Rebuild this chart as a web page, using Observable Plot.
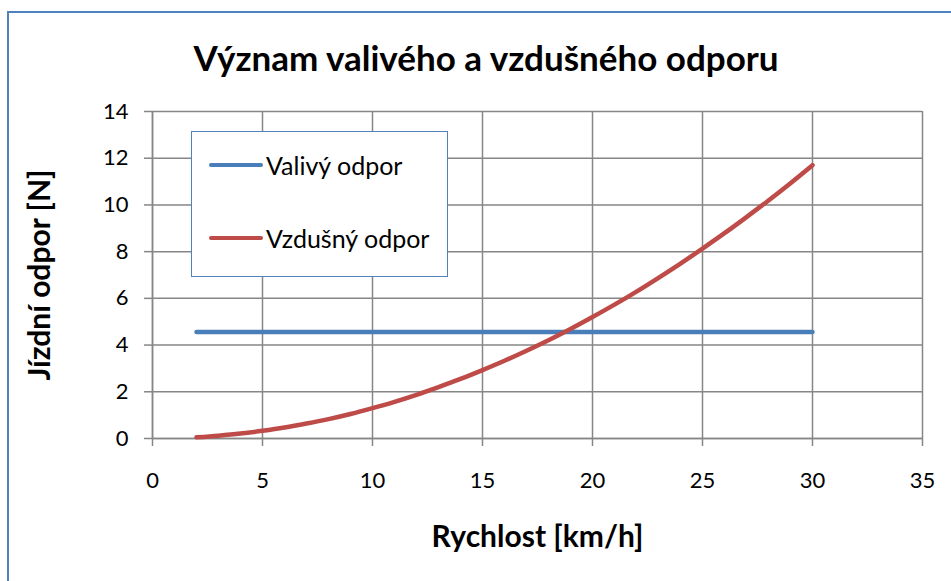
<!DOCTYPE html>
<html>
<head>
<meta charset="utf-8">
<script src="https://cdn.jsdelivr.net/npm/d3@7"></script>
<script src="https://cdn.jsdelivr.net/npm/@observablehq/plot@0.6"></script>
<style>
  html, body { margin: 0; padding: 0; background: #fff; overflow: hidden; }
  #wrap { position: relative; width: 951px; height: 581px; overflow: hidden; font-family: Lato, "Open Sans", sans-serif; }
  #border { position: absolute; left: 7px; top: 11px; width: 1200px; height: 1200px; border: 2px solid #4F81BD; box-sizing: border-box; }
  #title { position: absolute; left: 0; top: 35px; width: 972px; text-align: center; font-weight: bold; font-size: 35px; line-height: 44px; color: #000; }
  #chart { position: absolute; left: 0; top: 0; }
  #legend { position: absolute; left: 191px; top: 131px; width: 257px; height: 146px; border: 1.5px solid #4F81BD; box-sizing: border-box; background: #fff; }
  .li { position: absolute; left: 17px; display: flex; align-items: center; font-size: 25px; line-height: 30px; color: #000; }
  .sw { width: 54px; height: 4px; border-radius: 2px; margin-right: 3px; }
</style>
</head>
<body>
<div id="wrap">
  <div id="border"></div>
  <div id="chart"></div>
  <div id="title">Význam valivého a vzdušného odporu</div>
  <div id="legend">
    <div class="li" style="top:18px"><div class="sw" style="background:#4A7EBB"></div><span>Valivý odpor</span></div>
    <div class="li" style="top:91px"><div class="sw" style="background:#BE4B48"></div><span>Vzdušný odpor</span></div>
  </div>
</div>
<script>
const speeds = [2,3,4,5,6,7,8,9,10,11,12,13,14,15,16,17,18,19,20,21,22,23,24,25,26,27,28,29,30];
const valivy = [4.56,4.56,4.56,4.56,4.56,4.56,4.56,4.56,4.56,4.56,4.56,4.56,4.56,4.56,4.56,4.56,4.56,4.56,4.56,4.56,4.56,4.56,4.56,4.56,4.56,4.56,4.56,4.56,4.56];
const vzdusny = [0.05,0.12,0.21,0.33,0.47,0.64,0.83,1.05,1.30,1.57,1.87,2.20,2.55,2.93,3.33,3.76,4.21,4.69,5.20,5.73,6.29,6.88,7.49,8.13,8.79,9.48,10.19,10.93,11.70];
const xTicks = [0,5,10,15,20,25,30,35];
const yTicks = [0,2,4,6,8,10,12,14];
const seriesNames = ["Valivý odpor","Vzdušný odpor"];
const colors = ["#4A7EBB","#BE4B48"];
const xLabel = "Rychlost [km/h]";
const yLabel = "Jízdní odpor [N]";

const rows = [];
speeds.forEach((s,i) => {
  rows.push({x: s, y: valivy[i], s: seriesNames[0]});
  rows.push({x: s, y: vzdusny[i], s: seriesNames[1]});
});

const chart = Plot.plot({
  width: 951,
  height: 581,
  marginLeft: 152,
  marginRight: 29,
  marginTop: 111,
  marginBottom: 143,
  style: {fontFamily: "Lato, 'Open Sans', sans-serif", fontSize: "22px", color: "#000", background: "transparent"},
  x: {domain: [0,35]},
  y: {domain: [0,14]},
  color: {domain: seriesNames, range: colors},
  marks: [
    Plot.gridX(xTicks, {stroke: "#868686", strokeOpacity: 1, strokeWidth: 1.5}),
    Plot.gridY(yTicks, {stroke: "#868686", strokeOpacity: 1, strokeWidth: 1.5}),
    Plot.axisX({ticks: xTicks, tickSize: 8, tickPadding: 26, stroke: "#868686", strokeWidth: 1.5, label: null, fontSize: 22}),
    Plot.axisY({ticks: yTicks, tickSize: 8, tickPadding: 16, stroke: "#868686", strokeWidth: 1.5, label: null, fontSize: 22}),
    Plot.ruleY([0], {stroke: "#868686", strokeWidth: 1.5}),
    Plot.ruleX([0], {stroke: "#868686", strokeWidth: 1.5}),
    Plot.line(rows, {x: "x", y: "y", stroke: "s", strokeWidth: 4.5, strokeLinecap: "round", curve: "catmull-rom"}),
    Plot.text([xLabel], {frameAnchor: "bottom", dy: 99, lineAnchor: "middle", textAnchor: "middle", fontSize: 30, fontWeight: "bold"}),
    Plot.text([yLabel], {frameAnchor: "left", dx: -112, rotate: -90, lineAnchor: "middle", textAnchor: "middle", fontSize: 30, fontWeight: "bold"})
  ]
});
document.getElementById("chart").appendChild(chart);
</script>
</body>
</html>
